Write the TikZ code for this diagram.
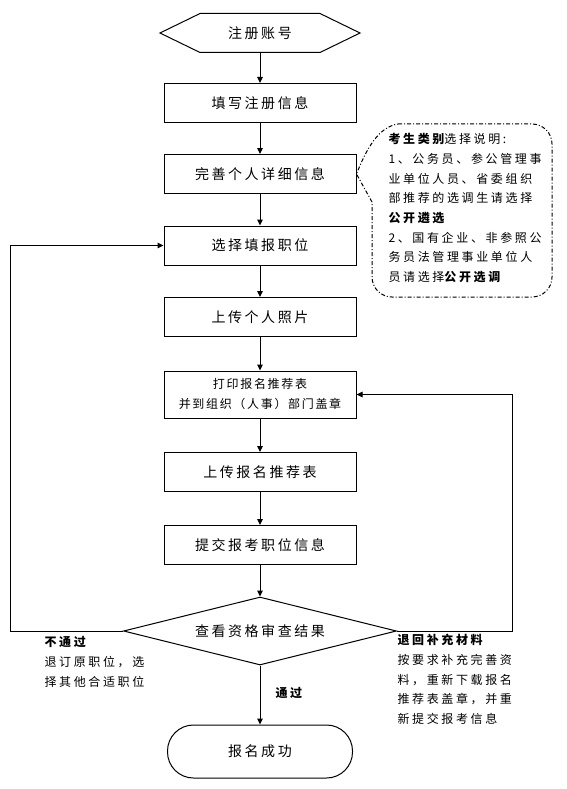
\documentclass[tikz,border=0pt]{standalone}
\usepackage{fontspec}
\usetikzlibrary{shapes.geometric,arrows.meta}
\newfontfamily\cjk[LetterSpace=18]{Noto Sans CJK SC}
\newfontfamily\cjks[LetterSpace=22]{Noto Sans CJK SC}
\newfontfamily\cjkm[LetterSpace=14]{Noto Sans CJK SC}
\begin{document}
\begin{tikzpicture}[x=1pt,y=-1pt,
  line width=1pt,
  box/.style={draw, minimum width=192pt, minimum height=39pt, inner sep=0pt,
    font=\cjk\fontsize{14}{16}\selectfont},
  arr/.style={-{Triangle[length=6pt,width=5.5pt]}},
  callout/.style={dash pattern=on 4pt off 2pt on 1pt off 2pt},
  small/.style={inner sep=0pt, align=left, font=\cjks\fontsize{12}{19.7}\selectfont}
]
\useasboundingbox (0,0) rectangle (567,789);
\fill[white] (0,0) rectangle (567,789);

% hexagon start
\node[minimum width=199pt, minimum height=38pt, inner sep=0pt,
  font=\cjk\fontsize{14}{16}\selectfont] (reg) at (260,33) {注册账号};
\draw (reg.west) -- ([xshift=40pt]reg.north west) -- ([xshift=-40pt]reg.north east)
  -- (reg.east) -- ([xshift=-40pt]reg.south east) -- ([xshift=40pt]reg.south west) -- cycle;

\node[box] (b1) at (260,103) {填写注册信息};
\node[box] (b2) at (260,174) {完善个人详细信息};
\node[box] (b3) at (260,245.5) {选择填报职位};
\node[box] (b4) at (260,317) {上传个人照片};
\node[box, minimum height=47pt, align=center,
  font=\cjkm\fontsize{12}{20}\selectfont] (b5) at (260,394.5) {打印报名推荐表\\并到组织（人事）部门盖章};
\node[box] (b6) at (260,472) {上传报名推荐表};
\node[box] (b7) at (260,545) {提交报考职位信息};
\node[draw, diamond, aspect=4, inner sep=0pt, minimum width=273pt, minimum height=68pt,
  font=\cjk\fontsize{14}{16}\selectfont] (chk) at (260,631) {查看资格审查结果};
\node[draw, rounded corners=26pt, minimum width=185pt, minimum height=53pt, inner sep=0pt,
  font=\cjk\fontsize{14}{16}\selectfont] (ok) at (260,751.5) {报名成功};

\draw[arr] (reg.south) -- (b1.north);
\draw[arr] (b1.south) -- (b2.north);
\draw[arr] (b2.south) -- (b3.north);
\draw[arr] (b3.south) -- (b4.north);
\draw[arr] (b4.south) -- (b5.north);
\draw[arr] (b5.south) -- (b6.north);
\draw[arr] (b6.south) -- (b7.north);
\draw[arr] (b7.south) -- (chk.north);
\draw[arr] (chk.south) -- (ok.north);

\coordinate (lp) at (10,245.5);
\coordinate (rp) at (512,394.5);
\draw[arr] (chk.west) -| (lp) -- (b3.west);
\draw[arr] (chk.east) -| (rp) -- (b5.east);

% callout
\coordinate (ctop) at (398,124);
\coordinate (cleft) at (372,202);
\draw[callout, rounded corners=20pt] (ctop) -- (552,124) -- (552,297) -- (372,297) -- (cleft);
\draw[callout] (cleft) -- (b2.east) .. controls (366,150) and (378,127) .. (ctop);
\node[small, anchor=north west] (note) at (388,133) {{\bfseries 考生类别}选择说明:\\
1、公务员、参公管理事\\
业单位人员、省委组织\\
部推荐的选调生请选择\\
{\bfseries 公开遴选}\\
2、国有企业、非参照公\\
务员法管理事业单位人\\
员请选择{\bfseries 公开选调}};

% labels
\node[small, anchor=north west] (fail) at (44,636) {{\bfseries 不通过}\\退订原职位，选\\择其他合适职位};
\node[small, anchor=north west] (back) at (397,634) {{\bfseries 退回补充材料}\\按要求补充完善资\\料，重新下载报名\\推荐表盖章，并重\\新提交报考信息};
\node[small, anchor=west] (pass) at (275,693) {\bfseries 通过};
\end{tikzpicture}
\end{document}
